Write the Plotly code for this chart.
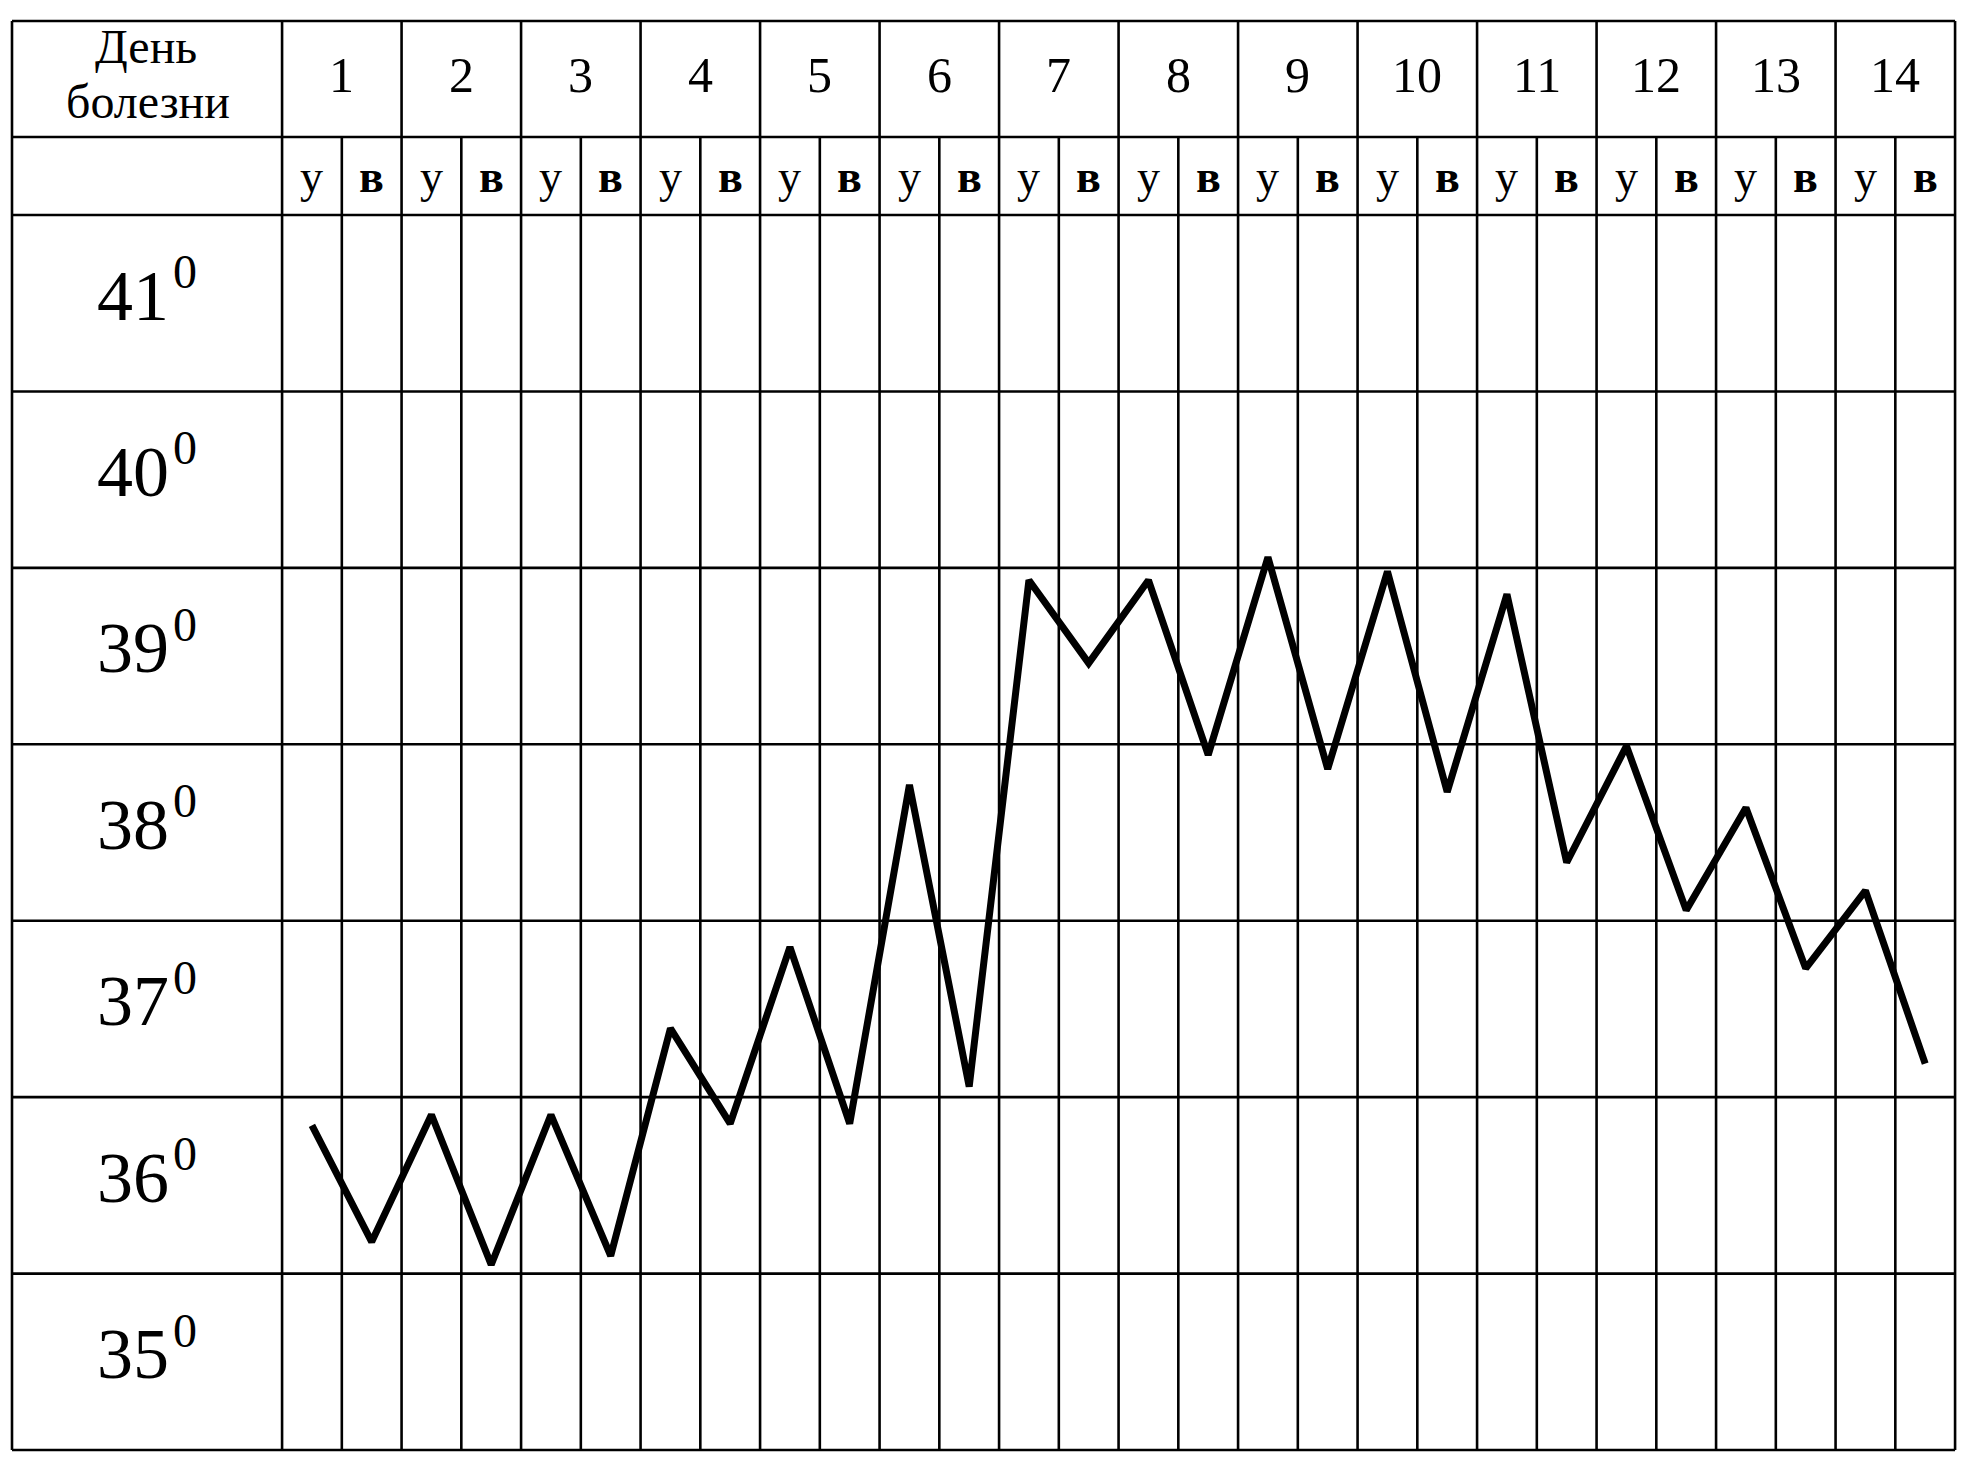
import plotly.graph_objects as go

# ---------------- data ----------------
days = list(range(1, 15))                 # День болезни
day_parts = ["у", "в"]                    # утро / вечер
temp_labels = [41, 40, 39, 38, 37, 36, 35]
temps = [36.84, 36.18, 36.90, 36.05, 36.90, 36.10, 37.39, 36.85, 37.85, 36.85,
         38.77, 37.06, 39.93, 39.46, 39.93, 38.94, 40.06, 38.86, 39.98, 38.73,
         39.85, 38.33, 38.99, 38.06, 38.64, 37.73, 38.17, 37.19]

# ---------------- geometry (axis units) ----------------
n_cols = len(days) * len(day_parts)
label_left = -4.52
y_bottom = min(temp_labels)
y_body_top = max(temp_labels) + 1
y_sub_top = y_body_top + 0.442
y_head_top = y_body_top + 1.0996

W, H = 1956, 1459
FONT = "Liberation Serif, Times New Roman, serif"
LW = 2.6

fig = go.Figure()

x_pts = [i + 0.5 for i in range(n_cols)]
fig.add_trace(go.Scatter(x=x_pts, y=temps, mode="lines",
                         line=dict(color="black", width=7),
                         hoverinfo="skip", showlegend=False))

shapes = []
def hline(y, x0=label_left, x1=n_cols):
    shapes.append(dict(type="line", xref="x", yref="y", x0=x0, x1=x1, y0=y, y1=y,
                       line=dict(color="black", width=LW)))
def vline(x, y0, y1):
    shapes.append(dict(type="line", xref="x", yref="y", x0=x, x1=x, y0=y0, y1=y1,
                       line=dict(color="black", width=LW)))

for t in range(y_bottom, y_body_top + 1):
    hline(t)
hline(y_sub_top)
hline(y_head_top)

vline(label_left, y_bottom, y_head_top)
vline(0, y_bottom, y_head_top)
for k in range(1, len(days) + 1):
    vline(2 * k, y_bottom, y_head_top)
for k in range(len(days)):
    vline(2 * k + 1, y_bottom, y_sub_top)

ann = []
# header of label column
ann.append(dict(x=-2.27, y=42.955, text="День", showarrow=False,
                font=dict(family=FONT, size=48, color="black"),
                xanchor="center", yanchor="middle"))
ann.append(dict(x=-2.24, y=42.6416, text="болезни", showarrow=False,
                font=dict(family=FONT, size=48, color="black"),
                xanchor="center", yanchor="middle"))
# day numbers
for k, d in enumerate(days):
    ann.append(dict(x=2 * k + 1, y=42.7935, text=str(d), showarrow=False,
                    font=dict(family=FONT, size=50, color="black"),
                    xanchor="center", yanchor="middle"))
# morning / evening
for i in range(n_cols):
    part = day_parts[i % 2]
    txt = part if part == "у" else "<b>" + part + "</b>"
    ann.append(dict(x=i + 0.5, y=42.221, text=txt, showarrow=False,
                    font=dict(family=FONT, size=46, color="black"),
                    xanchor="center", yanchor="middle"))
# temperature labels
for t in temp_labels:
    ann.append(dict(x=-2.49, y=t + 0.5437, text=str(t), showarrow=False,
                    font=dict(family=FONT, size=72, color="black"),
                    xanchor="center", yanchor="middle"))
    ann.append(dict(x=-1.62, y=t + 0.6798, text="0", showarrow=False,
                    font=dict(family=FONT, size=48, color="black"),
                    xanchor="center", yanchor="middle"))

fig.update_layout(
    width=W, height=H, autosize=False,
    margin=dict(l=0, r=0, t=0, b=0, pad=0),
    paper_bgcolor="white", plot_bgcolor="white",
    shapes=shapes, annotations=ann,
    xaxis=dict(range=[-4.5869, 28.1495], visible=False, fixedrange=True),
    yaxis=dict(range=[34.9037, 43.1733], visible=False, fixedrange=True),
    showlegend=False,
)

fig.write_html("out.html", config={"displayModeBar": False})
